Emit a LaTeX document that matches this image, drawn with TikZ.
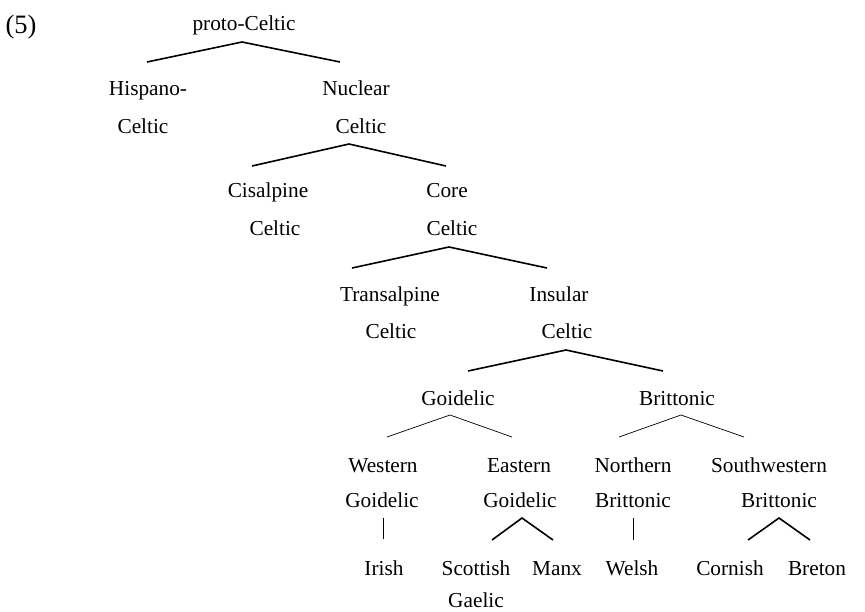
\documentclass[tikz,border=0pt]{standalone}
\usepackage{fontspec}
\setmainfont{Liberation Serif}
\usetikzlibrary{positioning}

\begin{document}
\begin{tikzpicture}[x=1pt, y=-1pt, font=\fontsize{21.3}{25}\selectfont,
                    lbl/.style={anchor=base, inner sep=0pt},
                    br/.style={line width=1.6pt, line join=miter},
                    brt/.style={line width=0.7pt},
                    stem/.style={line width=0.9pt}]
  \useasboundingbox (0,0) rectangle (865,611);
  \node[lbl, font=\fontsize{26.5}{30}\selectfont] (ex) at (21,33) {(5)};
  \foreach \n/\x/\y/\t in {pc/244/30/proto-Celtic,
      hc1/148/95/Hispano-, hc2/143/133/Celtic, nc1/356/95/Nuclear, nc2/361/133/Celtic,
      cc1/268/197/Cisalpine, cc2/275/235/Celtic, kc1/447/197/Core, kc2/452/235/Celtic,
      tc1/390/301/Transalpine, tc2/391/338/Celtic, ic1/559/301/Insular, ic2/567/338/Celtic,
      goi/458/405/Goidelic, bri/677/405/Brittonic,
      wg1/383/472/Western, wg2/382/507/Goidelic, eg1/519/472/Eastern, eg2/520/507/Goidelic,
      nb1/633/472/Northern, nb2/633/507/Brittonic, sb1/769/472/Southwestern, sb2/779/507/Brittonic,
      iri/384/575/Irish, sco1/476/575/Scottish, sco2/476/607/Gaelic, man/557/575/Manx,
      wel/632/575/Welsh, cor/730/575/Cornish, bre/817/575/Breton}
    \node[lbl] (\n) at (\x,\y) {\t};
  % branch points
  \foreach \p/\tx/\ty/\lx/\rx/\by in {pc/242/42/147/340/62, nc/349/144/252/446/166,
      kc/449/247/352/547/268, ic/566/350/468/663/371, goi/450/415/387/512/437,
      bri/681/415/619/744/437, eg/522/518/492/553/540, sb/779/518/748/810/540} {
    \coordinate (\p-t) at (\tx,\ty);
    \coordinate (\p-l) at (\lx,\by);
    \coordinate (\p-r) at (\rx,\by);
  }
  \foreach \p in {pc,nc,kc,ic,eg,sb} \draw[br] (\p-l) -- (\p-t) -- (\p-r);
  \foreach \p in {goi,bri} \draw[brt] (\p-l) -- (\p-t) -- (\p-r);
  \coordinate (wg-t) at (383,518); \coordinate (wg-b) at (383,539);
  \coordinate (nb-t) at (633,518); \coordinate (nb-b) at (633,540);
  \draw[stem] (wg-t) -- (wg-b);
  \draw[stem] (nb-t) -- (nb-b);
\end{tikzpicture}
\end{document}
